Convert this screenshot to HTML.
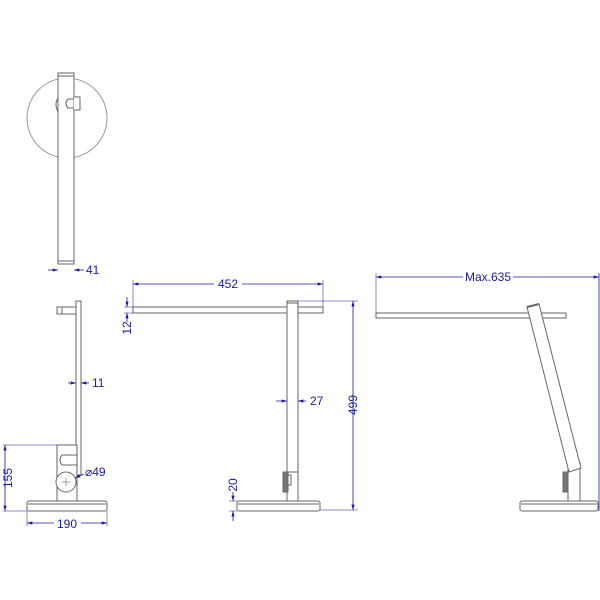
<!DOCTYPE html>
<html><head><meta charset="utf-8"><style>
html,body{margin:0;padding:0;background:#fff;width:600px;height:600px;overflow:hidden}
svg{display:block}
text{font-family:"Liberation Sans",sans-serif;font-size:12px;fill:#1a1aa0}
</style></head><body>
<svg width="600" height="600" viewBox="0 0 600 600" xmlns="http://www.w3.org/2000/svg">
<defs>
<marker id="a" viewBox="0 0 10 6" refX="10" refY="3" markerWidth="7" markerHeight="4" orient="auto-start-reverse"><path d="M0,0L10,3L0,6z" fill="#1a1aa0"/></marker>
</defs>
<g fill="none" stroke="#666" stroke-width="1">
<circle cx="67" cy="118" r="40" stroke="#999"/>
<rect x="58" y="73" width="16" height="191" fill="#fff"/>
<line x1="58" y1="76" x2="74" y2="76"/><line x1="58" y1="261" x2="74" y2="261"/>
<path d="M74,97 L80,97 L80,110 L74,110" fill="#fff"/>
<path d="M74,99 L68,99 Q64,103.5 68,108 L74,108"/>
<path d="M58,98 Q54,104 58,112"/>
<rect x="76" y="301" width="5" height="174" fill="#fff"/>
<rect x="57" y="307" width="19" height="7"/>
<line x1="62" y1="307" x2="62" y2="314"/>
<rect x="57" y="445" width="20" height="56" fill="#fff"/>
<path d="M77,455 L62,455 Q58,460 62,465 L77,465"/>
<circle cx="66" cy="482" r="10" fill="#fff"/>
<line x1="62" y1="482" x2="70" y2="482" stroke-width=".6"/><line x1="66" y1="478" x2="66" y2="486" stroke-width=".6"/>
<rect x="27" y="501" width="80" height="10" rx="2" fill="#fff"/>
<line x1="28" y1="504" x2="106" y2="504"/>
<rect x="133" y="307" width="190" height="6" fill="#fff"/>
<rect x="287" y="301" width="11" height="200" fill="#fff"/>
<line x1="287" y1="303" x2="298" y2="303"/>
<line x1="287" y1="472" x2="298" y2="472"/>
<rect x="283" y="472" width="5" height="20" fill="#777"/>
<rect x="288" y="475" width="3" height="10"/>
<rect x="237" y="501" width="83" height="10" rx="2" fill="#fff"/>
<line x1="238" y1="504" x2="319" y2="504"/>
<rect x="376" y="313" width="190" height="5" fill="#fff"/>
<line x1="568" y1="462" x2="568" y2="501"/><line x1="580" y1="462" x2="580" y2="501"/>
<polygon points="527,307 539,304 581,468 569,472" fill="#fff"/>
<line x1="527" y1="307" x2="539" y2="304" stroke-width="2"/>
<rect x="563" y="472" width="5" height="20" fill="#777"/>
<rect x="520" y="501" width="78" height="10" rx="2" fill="#fff"/>
<line x1="521" y1="504" x2="597" y2="504"/>
</g>
<g stroke="#1a1aa0" stroke-width="0.8" fill="none">
<line x1="48" y1="270" x2="58" y2="270" marker-end="url(#a)"/>
<line x1="84" y1="270" x2="74" y2="270" marker-end="url(#a)"/>
<line x1="68" y1="383" x2="76" y2="383" marker-end="url(#a)"/>
<line x1="89" y1="383" x2="81" y2="383" marker-end="url(#a)"/>
<line x1="3" y1="445" x2="57" y2="445" stroke-width=".5"/>
<line x1="3" y1="511" x2="27" y2="511" stroke-width=".5"/>
<line x1="5" y1="445" x2="5" y2="511" marker-start="url(#a)" marker-end="url(#a)"/>
<line x1="27" y1="511" x2="27" y2="526" stroke-width=".5"/>
<line x1="107" y1="511" x2="107" y2="526" stroke-width=".5"/>
<line x1="27" y1="523" x2="107" y2="523" marker-start="url(#a)" marker-end="url(#a)"/>
<line x1="84" y1="474" x2="75" y2="478" marker-end="url(#a)"/>
<line x1="133" y1="280" x2="133" y2="307" stroke-width=".5"/>
<line x1="323" y1="280" x2="323" y2="307" stroke-width=".5"/>
<line x1="133" y1="284" x2="323" y2="284" marker-start="url(#a)" marker-end="url(#a)"/>
<line x1="124" y1="307" x2="133" y2="307" stroke-width=".5"/>
<line x1="124" y1="313" x2="133" y2="313" stroke-width=".5"/>
<line x1="127" y1="297" x2="127" y2="307" marker-end="url(#a)"/>
<line x1="127" y1="322" x2="127" y2="313" marker-end="url(#a)"/>
<line x1="276" y1="401" x2="287" y2="401" marker-end="url(#a)"/>
<line x1="306" y1="401" x2="298" y2="401" marker-end="url(#a)"/>
<line x1="298" y1="301" x2="358" y2="301" stroke-width=".5"/>
<line x1="320" y1="510" x2="358" y2="510" stroke-width=".5"/>
<line x1="353" y1="301" x2="353" y2="510" marker-start="url(#a)" marker-end="url(#a)"/>
<line x1="229" y1="501" x2="237" y2="501" stroke-width=".5"/>
<line x1="229" y1="511" x2="237" y2="511" stroke-width=".5"/>
<line x1="233" y1="492" x2="233" y2="501" marker-end="url(#a)"/>
<line x1="233" y1="521" x2="233" y2="511" marker-end="url(#a)"/>
<line x1="376" y1="273" x2="376" y2="313" stroke-width=".5"/>
<line x1="599" y1="273" x2="599" y2="511" stroke-width=".8"/>
<line x1="376" y1="277" x2="599" y2="277" marker-start="url(#a)" marker-end="url(#a)"/>
</g>
<g>
<rect x="214" y="278" width="28" height="12" fill="#fff"/>
<rect x="463" y="271" width="50" height="12" fill="#fff"/>
<rect x="54" y="517" width="27" height="12" fill="#fff"/>
<text x="86" y="274">41</text>
<text x="92" y="387">11</text>
<text x="85" y="476">⌀49</text>
<text x="67" y="528" text-anchor="middle">190</text>
<text x="228" y="288" text-anchor="middle">452</text>
<text x="310" y="405">27</text>
<text x="488" y="281" text-anchor="middle">Max.635</text>
<text transform="translate(12,478) rotate(-90)" text-anchor="middle">155</text>
<text transform="translate(131,328) rotate(-90)" text-anchor="middle">12</text>
<text transform="translate(357,405) rotate(-90)" text-anchor="middle">499</text>
<text transform="translate(237,485) rotate(-90)" text-anchor="middle">20</text>
</g>
</svg>
</body></html>
